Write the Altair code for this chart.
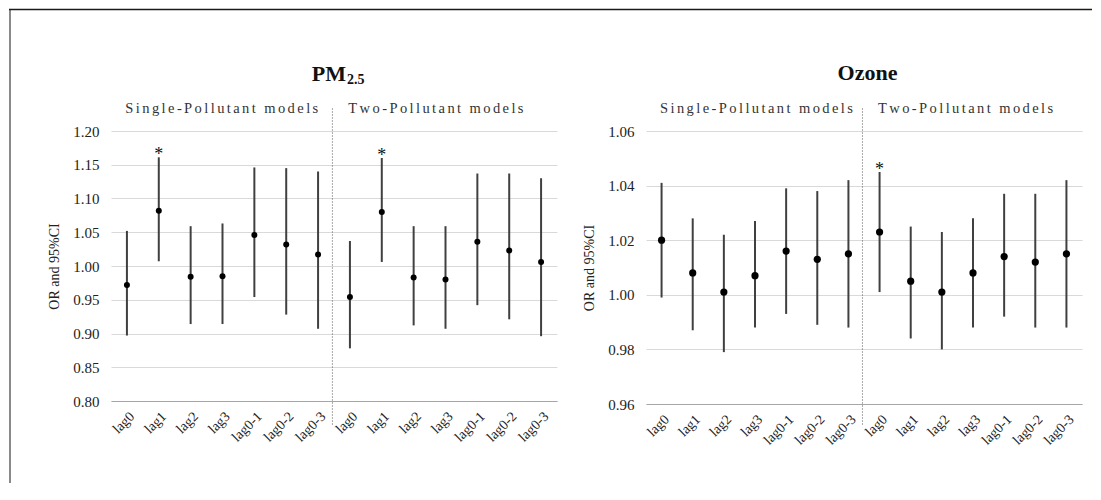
import altair as alt
import pandas as pd

lags = ['lag0', 'lag1', 'lag2', 'lag3', 'lag0-1', 'lag0-2', 'lag0-3']
groups = ['Single-Pollutant models', 'Two-Pollutant models']

pm_or_single = [0.972, 1.082, 0.984, 0.985, 1.046, 1.032, 1.017]
pm_lo_single = [0.897, 1.007, 0.914, 0.914, 0.954, 0.928, 0.907]
pm_hi_single = [1.052, 1.161, 1.059, 1.063, 1.146, 1.145, 1.140]
pm_or_two = [0.954, 1.080, 0.983, 0.980, 1.036, 1.023, 1.006]
pm_lo_two = [0.878, 1.006, 0.912, 0.907, 0.942, 0.921, 0.896]
pm_hi_two = [1.037, 1.160, 1.059, 1.059, 1.137, 1.137, 1.130]
pm_sig_single = [False, True, False, False, False, False, False]
pm_sig_two = [False, True, False, False, False, False, False]

oz_or_single = [1.020, 1.008, 1.001, 1.007, 1.016, 1.013, 1.015]
oz_lo_single = [0.999, 0.987, 0.979, 0.988, 0.993, 0.989, 0.988]
oz_hi_single = [1.041, 1.028, 1.022, 1.027, 1.039, 1.038, 1.042]
oz_or_two = [1.023, 1.005, 1.001, 1.008, 1.014, 1.012, 1.015]
oz_lo_two = [1.001, 0.984, 0.980, 0.988, 0.992, 0.988, 0.988]
oz_hi_two = [1.045, 1.025, 1.023, 1.028, 1.037, 1.037, 1.042]
oz_sig_single = [False, False, False, False, False, False, False]
oz_sig_two = [True, False, False, False, False, False, False]

pm_ticks = [0.80, 0.85, 0.90, 0.95, 1.00, 1.05, 1.10, 1.15, 1.20]
oz_ticks = [0.96, 0.98, 1.00, 1.02, 1.04, 1.06]

FONT = 'Liberation Serif'
SP = '\u2006'


def spaced(s):
    return SP.join(list(s))


def make_df(or1, lo1, hi1, sig1, or2, lo2, hi2, sig2):
    rows = []
    n = len(lags)
    for g, (o, l, h, s) in enumerate([(or1, lo1, hi1, sig1), (or2, lo2, hi2, sig2)]):
        for i in range(n):
            rows.append({'pos': g * n + i + 0.5, 'lag': lags[i], 'group': groups[g],
                         'or': o[i], 'lo': l[i], 'hi': h[i], 'star': '*' if s[i] else ''})
    return pd.DataFrame(rows)


label_list = "[" + ",".join("'" + l + "'" for l in lags * 2) + "]"


def panel(df, ydom, yticks, width, height, title_parts, dot_size, frame=None):
    xscale = alt.Scale(domain=[0, 2 * len(lags)], nice=False, zero=False)
    yscale = alt.Scale(domain=ydom, nice=False, zero=False)
    xaxis = alt.Axis(values=[i + 0.5 for i in range(2 * len(lags))],
                     labelExpr=label_list + "[floor(datum.value)]",
                     labelAngle=-45, labelAlign='right', labelBaseline='top',
                     labelFont=FONT, labelFontSize=14, labelColor='#222',
                     labelPadding=8, labelOverlap=False, labelFlush=False,
                     domain=True, domainColor='#a6a6a6', domainWidth=1,
                     ticks=False, grid=False, title=None)
    yaxis = alt.Axis(values=yticks, format='.2f', grid=True, gridColor='#d9d9d9',
                     gridWidth=1, domain=False, ticks=False,
                     labelFont=FONT, labelFontSize=15, labelColor='#222', labelPadding=12,
                     title='OR and 95%CI', titleFont=FONT, titleFontSize=14,
                     titleFontWeight='normal', titleColor='#222', titlePadding=11)
    base = alt.Chart(df)
    rules = base.mark_rule(color='#404040', strokeWidth=2).encode(
        x=alt.X('pos:Q', scale=xscale, axis=xaxis),
        y=alt.Y('lo:Q', scale=yscale, axis=yaxis),
        y2='hi:Q')
    dots = base.mark_circle(color='black', size=dot_size, opacity=1).encode(
        x=alt.X('pos:Q', scale=xscale, axis=xaxis),
        y=alt.Y('or:Q', scale=yscale, axis=yaxis))
    stars = base.mark_text(font=FONT, fontSize=18, color='#111', baseline='alphabetic',
                           dy=3).encode(
        x=alt.X('pos:Q', scale=xscale, axis=xaxis),
        y=alt.Y('hi:Q', scale=yscale, axis=yaxis),
        text='star:N')
    sec_df = pd.DataFrame({'pos': [0.45, len(lags) + 0.45],
                           'txt': [spaced(g) for g in groups]})
    sections = alt.Chart(sec_df).mark_text(font=FONT, fontSize=14.5, color='#333',
                                           align='left', baseline='alphabetic').encode(
        x=alt.X('pos:Q', scale=xscale, axis=xaxis),
        y=alt.value(-18),
        text='txt:N')
    div_df = pd.DataFrame({'pos': [len(lags) - 0.05]})
    divider = alt.Chart(div_df).mark_rule(color='#555555', strokeWidth=1,
                                          strokeDash=[1, 2]).encode(
        x=alt.X('pos:Q', scale=xscale, axis=xaxis),
        y=alt.value(-22.5), y2=alt.value(295.5))
    layers = [rules, dots, stars, sections, divider]
    for t in title_parts:
        tdf = pd.DataFrame({'txt': [t['text']]})
        layers.append(alt.Chart(tdf).mark_text(font=FONT, fontSize=t['size'],
                                               fontWeight='bold', color='#111',
                                               align=t['align'],
                                               baseline='alphabetic').encode(
            x=alt.value(t['x']), y=alt.value(t['y']), text='txt:N'))
    fdf = pd.DataFrame({'k': [0]})
    if frame == 'left':
        layers.append(alt.Chart(fdf).mark_rule(color='#8a8a8a', strokeWidth=2).encode(
            x=alt.value(-101), y=alt.value(-121.5), y2=alt.value(352)))
    if frame == 'top':
        layers.append(alt.Chart(fdf).mark_rule(color='#1a1a1a', strokeWidth=1.5,
                                               strokeCap='butt').encode(
            x=alt.value(-637), x2=alt.value(446), y=alt.value(-121.5)))
    return alt.layer(*layers).properties(width=width, height=height)


pm_df = make_df(pm_or_single, pm_lo_single, pm_hi_single, pm_sig_single,
                pm_or_two, pm_lo_two, pm_hi_two, pm_sig_two)
oz_df = make_df(oz_or_single, oz_lo_single, oz_hi_single, oz_sig_single,
                oz_or_two, oz_lo_two, oz_hi_two, oz_sig_two)

pm = panel(pm_df, [0.80, 1.20], pm_ticks, 446, 270,
           [{'text': 'PM', 'size': 22, 'align': 'right', 'x': 235, 'y': -50.5},
            {'text': '2.5', 'size': 14, 'align': 'left', 'x': 236, 'y': -47}],
           36, frame='left')
oz = panel(oz_df, [0.96, 1.06], oz_ticks, 436, 273,
           [{'text': 'Ozone', 'size': 22, 'align': 'center', 'x': 221.5, 'y': -51}],
           52, frame='top')

chart = alt.hconcat(pm, oz, spacing=89, bounds='flush').properties(
    padding=0, background='white'
).configure_view(stroke=None)

chart.save("out.html", embed_options={"renderer": "svg", "actions": False})
